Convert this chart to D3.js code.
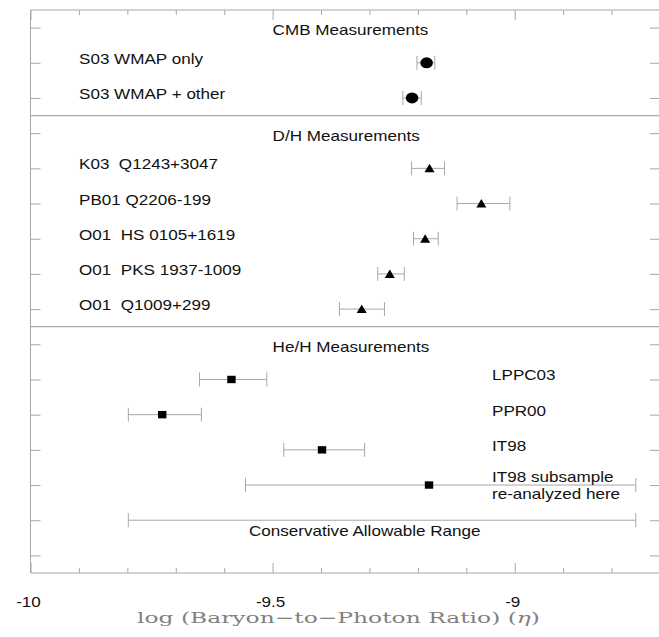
<!DOCTYPE html>
<html>
<head>
<meta charset="utf-8">
<script src="https://cdn.jsdelivr.net/npm/d3@7"></script>
<style>
  html, body { margin: 0; padding: 0; background: #ffffff; }
  svg { display: block; }
  .lbl { font-family: "Liberation Sans", Arial, Helvetica, sans-serif; font-size: 14px; fill: #111; white-space: pre; }
</style>
</head>
<body>
<svg id="chart" width="659" height="637"></svg>
<script>
// Section headers and the rows they sit on
const sectionTitles = ["CMB Measurements", "D/H Measurements", "He/H Measurements"];
const sectionRows = [0, 3, 9];
const separatorRows = [3, 9];
const rowCount = 16;

// Measurements: log10 of the baryon-to-photon ratio with their ranges
const measurementLabels = [
  "S03 WMAP only", "S03 WMAP + other",
  "K03  Q1243+3047", "PB01 Q2206-199", "O01  HS 0105+1619", "O01  PKS 1937-1009", "O01  Q1009+299",
  "LPPC03", "PPR00", "IT98", "IT98 subsample|re-analyzed here", "Conservative Allowable Range"
];
const measurementRows = [1, 2, 4, 5, 6, 7, 8, 10, 11, 12, 13, 14];
const centralValues = [-9.182, -9.212, -9.176, -9.069, -9.185, -9.258, -9.316, -9.585, -9.728, -9.398, -9.177, null];
const lowerValues   = [-9.202, -9.231, -9.213, -9.119, -9.209, -9.283, -9.362, -9.651, -9.798, -9.477, -9.556, -9.798];
const upperValues   = [-9.165, -9.193, -9.145, -9.010, -9.158, -9.228, -9.269, -9.512, -9.647, -9.310, -8.750, -8.750];
const markerShapes  = ["circle", "circle", "triangle", "triangle", "triangle", "triangle", "triangle",
                       "square", "square", "square", "square", "none"];
const labelPlacement = ["left", "left", "left", "left", "left", "left", "left",
                        "right", "right", "right", "right", "below"];

// Axis ticks
const majorTicks = [-10, -9.5, -9];
const majorTickLabels = ["-10", "-9.5", "-9"];
const minorTicks = d3.range(-10, -8.69, 0.1).map(v => +v.toFixed(1));

const svg = d3.select("#chart");
const frame = { left: 30.5, right: 660, top: 10, bottom: 573 };
const STRETCH = 1.22;         // horizontal text stretch
const lineColor = "#a8a8a8";

const x = d3.scaleLinear().domain([-10, -8.7]).range([frame.left, frame.right]);
const y = d3.scaleLinear().domain([0, rowCount]).range([frame.top, frame.bottom]);
const rowY = r => y(r + 0.5);

function addText(parent, tx, ty, str, anchor) {
  return parent.append("text")
    .attr("class", "lbl")
    .attr("transform", `translate(${tx},${ty}) scale(${STRETCH},1)`)
    .attr("text-anchor", anchor || "start")
    .text(str);
}

// Frame (the right edge falls just outside the canvas)
const g = svg.append("g");
g.append("line").attr("x1", frame.left).attr("x2", frame.left).attr("y1", frame.top).attr("y2", frame.bottom)
  .attr("stroke", lineColor);
g.append("line").attr("x1", frame.left).attr("x2", frame.right).attr("y1", frame.top).attr("y2", frame.top)
  .attr("stroke", lineColor);
g.append("line").attr("x1", frame.left).attr("x2", frame.right).attr("y1", frame.bottom).attr("y2", frame.bottom)
  .attr("stroke", lineColor);

// Bottom and top ticks (inward)
const isMajor = v => majorTicks.some(m => Math.abs(m - v) < 1e-6);
const bottomAxis = d3.axisBottom(x).tickValues(minorTicks).tickSizeInner(0).tickSizeOuter(0).tickFormat("");
const topAxis = d3.axisTop(x).tickValues(minorTicks).tickSizeInner(0).tickSizeOuter(0).tickFormat("");
const bAx = g.append("g").attr("transform", `translate(0,${frame.bottom})`).call(bottomAxis);
const tAx = g.append("g").attr("transform", `translate(0,${frame.top})`).call(topAxis);
bAx.select(".domain").remove();
tAx.select(".domain").remove();
bAx.selectAll(".tick line").attr("y2", d => isMajor(d) ? -10 : -5).attr("stroke", lineColor);
tAx.selectAll(".tick line").attr("y2", d => isMajor(d) ? 10 : 5).attr("stroke", lineColor);

// Left and right row ticks (inward)
const rowTicks = d3.range(rowCount).map(r => r + 0.5);
const lAx = g.append("g").attr("transform", `translate(${frame.left},0)`)
  .call(d3.axisLeft(y).tickValues(rowTicks).tickSizeInner(-10).tickSizeOuter(0).tickFormat(""));
const rAx = g.append("g").attr("transform", `translate(${frame.right},0)`)
  .call(d3.axisRight(y).tickValues(rowTicks).tickSizeInner(-10).tickSizeOuter(0).tickFormat(""));
lAx.select(".domain").remove();
rAx.select(".domain").remove();
lAx.selectAll(".tick line").attr("stroke", lineColor);
rAx.selectAll(".tick line").attr("stroke", lineColor);

// Tick labels
majorTicks.forEach((v, i) => {
  addText(g, x(v) - 2, 606.5, majorTickLabels[i], "middle");
});

// Section separators
separatorRows.forEach(r => {
  g.append("line").attr("x1", frame.left).attr("x2", frame.right)
    .attr("y1", y(r)).attr("y2", y(r)).attr("stroke", lineColor).attr("stroke-width", 1.2);
});

// Section headers
sectionTitles.forEach((t, i) => {
  addText(g, x(-9.5), rowY(sectionRows[i]) + 7.5, t, "start");
});

// Error bars and markers
const capH = 7;
measurementLabels.forEach((lab, i) => {
  const yy = rowY(measurementRows[i]);
  const x0 = x(lowerValues[i]), x1 = x(upperValues[i]);
  g.append("line").attr("x1", x0).attr("x2", x1).attr("y1", yy).attr("y2", yy).attr("stroke", lineColor);
  [x0, x1].forEach(cx => {
    g.append("line").attr("x1", cx).attr("x2", cx).attr("y1", yy - capH).attr("y2", yy + capH)
      .attr("stroke", lineColor);
  });
  const c = centralValues[i];
  if (c !== null) {
    const cx = x(c);
    if (markerShapes[i] === "circle") {
      g.append("ellipse").attr("cx", cx).attr("cy", yy).attr("rx", 6.3).attr("ry", 5.5).attr("fill", "#000");
    } else if (markerShapes[i] === "triangle") {
      g.append("path").attr("d", `M${cx - 5},${yy + 4}L${cx + 5},${yy + 4}L${cx},${yy - 4.5}Z`).attr("fill", "#000");
    } else if (markerShapes[i] === "square") {
      g.append("rect").attr("x", cx - 4.2).attr("y", yy - 3.7).attr("width", 8.4).attr("height", 7.4).attr("fill", "#000");
    }
  }
  // Labels
  const lines = lab.split("|");
  if (labelPlacement[i] === "left") {
    addText(g, 79, yy + 1, lines[0], "start");
  } else if (labelPlacement[i] === "right") {
    if (lines.length === 1) {
      addText(g, 492, yy + 1, lines[0], "start");
    } else {
      addText(g, 492, yy - 3, lines[0], "start");
      addText(g, 492, yy + 14, lines[1], "start");
    }
  } else {
    addText(g, 249, yy + 16, lines[0], "start");
  }
});

// Axis title
const title = svg.append("text")
  .attr("x", 137).attr("y", 623)
  .attr("textLength", 403).attr("lengthAdjust", "spacingAndGlyphs")
  .style("font-family", "'DejaVu Serif', 'Liberation Serif', serif")
  .style("font-size", "15px")
  .style("fill", "#808080");
title.append("tspan").text("log (Baryon\u2212to\u2212Photon Ratio) (");
title.append("tspan").style("font-style", "italic").text("\u03B7");
title.append("tspan").text(")");
</script>
</body>
</html>
